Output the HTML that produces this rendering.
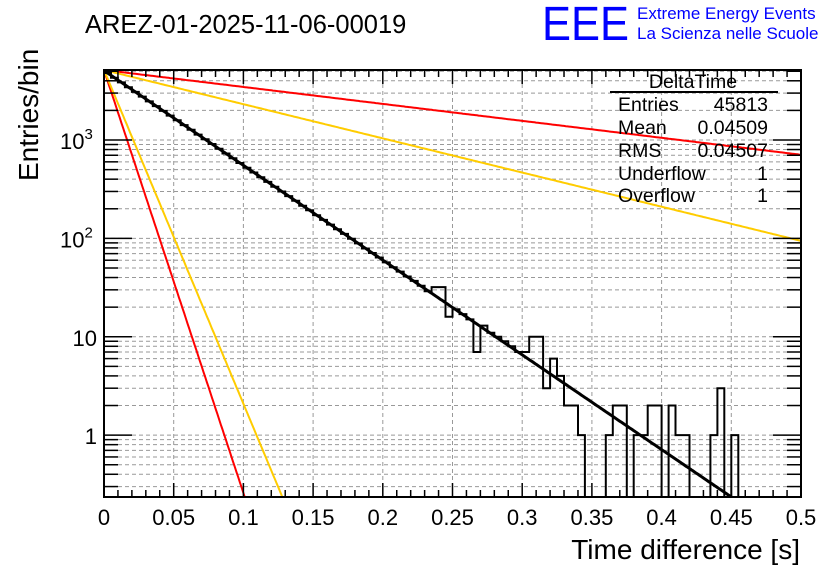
<!DOCTYPE html>
<html><head><meta charset="utf-8"><style>
html,body{margin:0;padding:0;background:#fff;}
svg{display:block;font-family:"Liberation Sans",Arial,sans-serif;}
</style></head><body>
<svg id="chart" width="836" height="572" viewBox="0 0 836 572" xmlns="http://www.w3.org/2000/svg">
<rect x="0" y="0" width="836" height="572" fill="#fff"/>
<g id="grid"></g>
<g id="fits"></g>
<g id="hist"></g>
<g id="axes"></g>
<text x="85" y="33" font-size="25.5" fill="#000">AREZ-01-2025-11-06-00019</text>
<text x="542" y="40" font-size="48" fill="#0000ff" textLength="87" lengthAdjust="spacingAndGlyphs">EEE</text>
<text x="637" y="19" font-size="17" fill="#0000ff">Extreme Energy Events</text>
<text x="637" y="39" font-size="17" fill="#0000ff">La Scienza nelle Scuole</text>
<text transform="translate(38,181) rotate(-90)" font-size="28" fill="#000">Entries/bin</text>
<text x="800" y="559" font-size="28" fill="#000" text-anchor="end">Time difference [s]</text>
<g font-size="19.5" fill="#000">
<text x="693" y="88" text-anchor="middle">DeltaTime</text>
<line x1="610" y1="92" x2="778" y2="92" stroke="#000" stroke-width="2"/>
<text x="618" y="111">Entries</text>
<text x="768" y="111" text-anchor="end">45813</text>
<text x="618" y="134">Mean</text>
<text x="768" y="134" text-anchor="end">0.04509</text>
<text x="618" y="157">RMS</text>
<text x="768" y="157" text-anchor="end">0.04507</text>
<text x="618" y="180">Underflow</text>
<text x="768" y="180" text-anchor="end">1</text>
<text x="618" y="202">Overflow</text>
<text x="768" y="202" text-anchor="end">1</text>
</g>
</svg>
<script>
const binWidth = 0.005;
const counts = [4806,4302,3850,3446,3084,2760,2470,2211,1979,1771,
1585,1419,1270,1136,1017,910,815,729,653,584,
523,468,419,375,335,300,269,241,215,193,
172,154,138,124,111,99,89,79,71,64,
57,51,46,41,37,33,29,32,32,16,
19,17,15,7,13,11,10,9,8,7,
7,10,10,3,6,4,2,2,1,0,
0,0,1,2,2,0,1,1,2,2,
0,2,1,1,0,0,0,1,3,0,
1,0,0,0,0,0,0,0,0,0];
const xTicks = [0,0.05,0.1,0.15,0.2,0.25,0.3,0.35,0.4,0.45,0.5];
const xTickLabels = ["0","0.05","0.1","0.15","0.2","0.25","0.3","0.35","0.4","0.45","0.5"];
const yDecades = [1,10,100,1000];
const fitNorm = 5080;
const fitTau = 0.04509;
const refNorm = [5150,5150,5150,5150];
const refTau = [0.252,0.0101,0.125,0.0128];
const refColors = ["#ff0000","#ff0000","#ffcc00","#ffcc00"];

const L=104,R=801,T=70,B=497;
const yMin=0.235, yMax=5150;
const X=v=>L+(v-0)/(0.5)*(R-L);
const Y=v=>{ if(v<=yMin) return B; return B-(Math.log10(v)-Math.log10(yMin))/(Math.log10(yMax)-Math.log10(yMin))*(B-T); };
const NS="http://www.w3.org/2000/svg";
function mk(tag,attrs,parent){const e=document.createElementNS(NS,tag);for(const k in attrs)e.setAttribute(k,attrs[k]);parent.appendChild(e);return e;}

const grid=document.getElementById('grid');
xTicks.forEach(t=>{ if(t>0&&t<0.5){
  const l=mk('line',{x1:X(t),x2:X(t),y1:T,y2:B,stroke:'#999','stroke-dasharray':'4,3','stroke-width':1},grid);
  
  
}});
for(let d=0.1; d<=1000; d*=10){
  for(let m=1;m<=9;m++){
    const v=d*m; if(v<yMin||v>yMax) continue;
    const l=mk('line',{x1:L,x2:R,y1:Y(v),y2:Y(v),stroke:'#999','stroke-dasharray':'4,3','stroke-width':1},grid);
    
    
  }
}

const fits=document.getElementById('fits');
function curve(N,tau,color,name,w){
  let d='';
  for(let i=0;i<=400;i++){
    const x=i/400*0.5; const v=N*Math.exp(-x/tau);
    if(v<yMin){ const xe=tau*Math.log(N/yMin); d+='L'+X(xe).toFixed(1)+','+B; break; }
    d+=(i?'L':'M')+X(x).toFixed(1)+','+Y(v).toFixed(1);
  }
  const p=mk('path',{d:d,fill:'none',stroke:color,'stroke-width':w},fits);
  
  
}
refTau.forEach((tau,i)=>curve(refNorm[i],tau,refColors[i],'reference-curve',2));

const hist=document.getElementById('hist');
let d='M'+X(0)+','+B;
counts.forEach((c,i)=>{
  const x0=X(i*binWidth),x1=X((i+1)*binWidth),y=Y(c);
  d+='L'+x0.toFixed(1)+','+y.toFixed(1)+'L'+x1.toFixed(1)+','+y.toFixed(1);
});
const hp=mk('path',{d:d,fill:'none',stroke:'#000','stroke-width':2},hist);


curve(fitNorm*binWidth/0.005,fitTau,'#000','exponential-fit',3);

const axes=document.getElementById('axes');
const fr=mk('rect',{x:L,y:T,width:R-L,height:B-T,fill:'none',stroke:'#000','stroke-width':2},axes);


for(let i=0;i<=50;i++){
  const x=X(i*0.01); const len=(i%5===0)?14:7;
  mk('line',{x1:x,x2:x,y1:B,y2:B-len,stroke:'#000','stroke-width':1.5},axes);
  mk('line',{x1:x,x2:x,y1:T,y2:T+len,stroke:'#000','stroke-width':1.5},axes);
}
xTicks.forEach((t,i)=>{
  const tx=mk('text',{x:X(t),y:525,'font-size':22,'text-anchor':'middle',fill:'#000'},axes);
  tx.textContent=xTickLabels[i];
  
  
});
for(let d=0.1; d<=1000; d*=10){
  for(let m=1;m<=9;m++){
    const v=d*m; if(v<yMin||v>yMax) continue;
    const len=m===1?28:14; const y=Y(v);
    mk('line',{x1:L,x2:L+len,y1:y,y2:y,stroke:'#000','stroke-width':1.5},axes);
    mk('line',{x1:R,x2:R-len,y1:y,y2:y,stroke:'#000','stroke-width':1.5},axes);
  }
}
yDecades.forEach(v=>{
  const y=Y(v);
  let tx;
  if(v>=100){
    tx=mk('text',{x:60,y:y+9,'font-size':22,fill:'#000'},axes);
    tx.textContent='10';
    const s=mk('tspan',{dy:-10,'font-size':15},tx); s.textContent=String(Math.round(Math.log10(v)));
  } else {
    tx=mk('text',{x:97,y:y+9,'font-size':22,'text-anchor':'end',fill:'#000'},axes);
    tx.textContent=String(v);
  }
  
  
});
</script>
</body></html>
